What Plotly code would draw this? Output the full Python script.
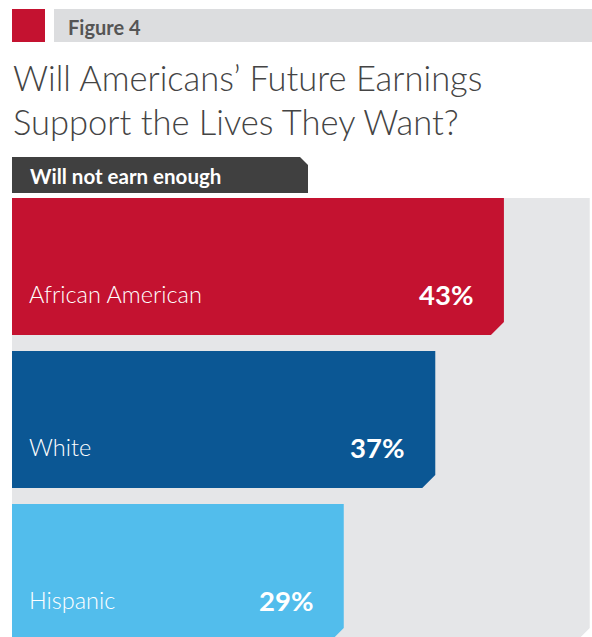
import plotly.graph_objects as go

# ---- data ----
categories = ["African American", "White", "Hispanic"]
values = [43, 37, 29]
value_labels = ["43%", "37%", "29%"]
bar_colors = ["#C41230", "#0B5794", "#52BDEC"]
figure_label = "Figure 4"
title_lines = ["Will Americans\u2019 Future Earnings", "Support the Lives They Want?"]
section_label = "Will not earn enough"
scale_max = 50.5

W, H = 592, 637
K = 11.44          # px per percentage point
X0 = 12            # px of zero
BAND = 153.0       # px per category
Y0 = 266.5         # px of first category centre

def px_x(p):
    return p / W

def px_y(p):
    return 1 - p / H

fig = go.Figure()

half = 137 / BAND / 2
cx = 13 / K
cy = 13 / BAND

# background track
n = len(categories)
bx = [0, scale_max, scale_max, scale_max - cx, 0, 0]
by = [-half, -half, (n - 1) + half - cy, (n - 1) + half, (n - 1) + half, -half]
fig.add_trace(go.Scatter(x=bx, y=by, fill="toself", fillcolor="#E5E6E8",
                         line=dict(width=0), mode="lines", hoverinfo="skip",
                         showlegend=False))

for i, (cat, v, c) in enumerate(zip(categories, values, bar_colors)):
    xs = [0, v, v, v - cx, 0, 0]
    ys = [i - half, i - half, i + half - cy, i + half, i + half, i - half]
    fig.add_trace(go.Scatter(x=xs, y=ys, fill="toself", fillcolor=c,
                             line=dict(width=0), mode="lines", name=cat,
                             hoverinfo="skip", showlegend=False))
    fig.add_annotation(x=0, y=i + 0.18, xref="x", yref="y", text=cat,
                       showarrow=False, xanchor="left", yanchor="middle",
                       xshift=15,
                       font=dict(family="Lato", size=23.5, color="white", weight=300))
    fig.add_annotation(x=v, y=i + 0.18, xref="x", yref="y", text=value_labels[i],
                       showarrow=False, xanchor="right", yanchor="middle",
                       xshift=-29,
                       font=dict(family="Lato", size=27.5, color="white", weight=700))

shapes = []
# red square
shapes.append(dict(type="rect", xref="paper", yref="paper",
                   x0=px_x(12), x1=px_x(45), y0=px_y(42), y1=px_y(9),
                   fillcolor="#C41230", line=dict(width=0)))
# header grey bar
shapes.append(dict(type="rect", xref="paper", yref="paper",
                   x0=px_x(54), x1=px_x(592), y0=px_y(42), y1=px_y(9),
                   fillcolor="#DCDDDF", line=dict(width=0)))
# dark label box with chamfer
pts = [(12, 157), (300, 157), (308, 165), (308, 193), (12, 193)]
path = "M " + " L ".join(f"{px_x(a):.5f},{px_y(b):.5f}" for a, b in pts) + " Z"
shapes.append(dict(type="path", xref="paper", yref="paper", path=path,
                   fillcolor="#404040", line=dict(width=0)))

fig.update_layout(shapes=shapes)

fig.add_annotation(x=px_x(66), y=px_y(27), xref="paper", yref="paper",
                   text=figure_label, showarrow=False, xanchor="left", yanchor="middle",
                   font=dict(family="Lato", size=20, color="#555555", weight=700))
fig.add_annotation(x=px_x(11), y=px_y(77), xref="paper", yref="paper",
                   text=title_lines[0], showarrow=False, xanchor="left", yanchor="middle",
                   font=dict(family="Lato", size=34.5, color="#444444", weight=300))
fig.add_annotation(x=px_x(11), y=px_y(121), xref="paper", yref="paper",
                   text=title_lines[1], showarrow=False, xanchor="left", yanchor="middle",
                   font=dict(family="Lato", size=34.5, color="#444444", weight=300))
fig.add_annotation(x=px_x(28), y=px_y(176), xref="paper", yref="paper",
                   text=section_label, showarrow=False, xanchor="left", yanchor="middle",
                   font=dict(family="Lato", size=20.5, color="white", weight=700))

fig.update_xaxes(range=[-X0 / K, (W - X0) / K], visible=False, fixedrange=True)
fig.update_yaxes(range=[(H - Y0) / BAND, -Y0 / BAND], visible=False, fixedrange=True)
fig.update_layout(width=W, height=H, margin=dict(l=0, r=0, t=0, b=0),
                  paper_bgcolor="white", plot_bgcolor="white")

fig.write_html("out.html", config={"displayModeBar": False},
               post_script="document.body.style.margin='0';document.body.style.overflow='hidden';")
